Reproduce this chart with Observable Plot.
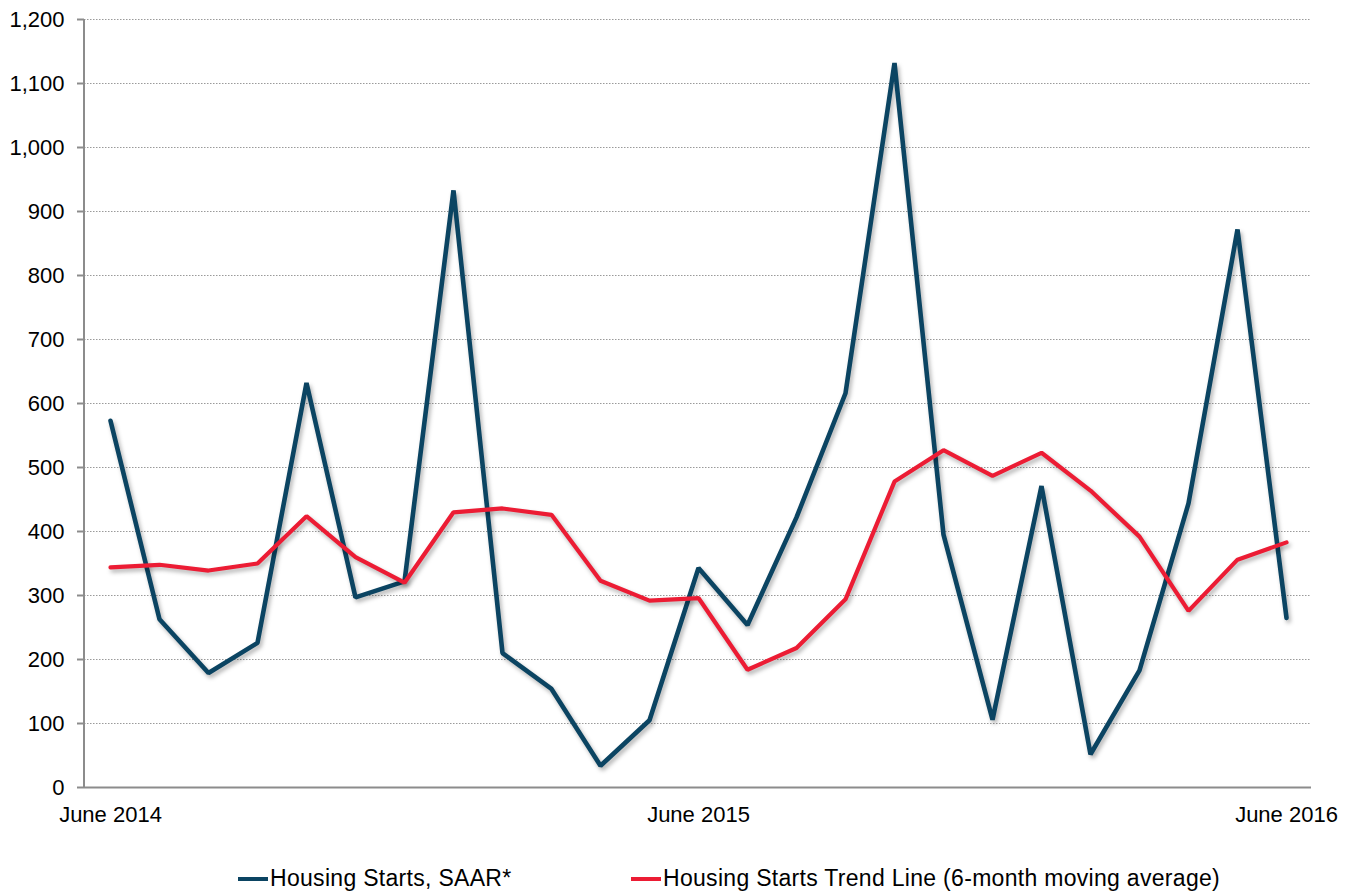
<!DOCTYPE html>
<html>
<head>
<meta charset="utf-8">
<script src="https://cdn.jsdelivr.net/npm/d3@7"></script>
<script src="https://cdn.jsdelivr.net/npm/@observablehq/plot@0.6"></script>
<style>
  html, body { margin: 0; padding: 0; background: #fff; }
  body { width: 1348px; height: 895px; position: relative; font-family: "Liberation Sans", Arial, sans-serif; }
  #chart { position: absolute; left: 0; top: 0; }
  #chart svg g[aria-label="line"] path { filter: drop-shadow(2px 3px 2px rgba(0,0,0,0.30)); }
  .legend { position: absolute; top: 865px; left: 0; width: 1348px; height: 30px; font-size: 23px; letter-spacing: 0.3px; color: #000; }
  .legend .item { position: absolute; top: 0; display: flex; align-items: center; white-space: nowrap; }
  .legend .sw { display: inline-block; width: 30px; height: 4px; margin-right: 2px; }
</style>
</head>
<body>
<div id="chart"></div>
<div class="legend" id="legend"></div>
<script>
const months = [
  "June 2014","July 2014","August 2014","September 2014","October 2014","November 2014","December 2014",
  "January 2015","February 2015","March 2015","April 2015","May 2015","June 2015",
  "July 2015","August 2015","September 2015","October 2015","November 2015","December 2015",
  "January 2016","February 2016","March 2016","April 2016","May 2016","June 2016"
];
const housingStarts = [573, 263, 179, 226, 632, 297, 322, 933, 210, 154, 34, 105, 343,
  254, 422, 616, 1132, 395, 106, 471, 52, 183, 444, 872, 265];
const trendLine = [344, 348, 339, 350, 424, 360, 320, 430, 436, 426, 323, 292, 296,
  184, 218, 294, 478, 527, 487, 523, 464, 392, 276, 356, 383];
const xTicks = ["June 2014", "June 2015", "June 2016"];
const yTicks = [0, 100, 200, 300, 400, 500, 600, 700, 800, 900, 1000, 1100, 1200];
const gridTicks = yTicks.filter(v => v > 0);
const seriesNames = ["Housing Starts, SAAR*", "Housing Starts Trend Line (6-month moving average)"];
const seriesColors = ["#0b4462", "#ec1c34"];

const starts = months.map((m, i) => ({month: m, value: housingStarts[i]}));
const trend = months.map((m, i) => ({month: m, value: trendLine[i]}));

const fmt = d3.format(",");

const chart = Plot.plot({
  width: 1348,
  height: 835,
  marginLeft: 84,
  marginRight: 37,
  marginTop: 19,
  marginBottom: 48,
  style: {fontFamily: "'Liberation Sans', Arial, sans-serif", fontSize: "22px", color: "#000", background: "#fff", overflow: "visible"},
  x: {type: "point", domain: months, padding: 0.5, label: null},
  y: {domain: [0, 1200], label: null},
  marks: [
    Plot.ruleY(gridTicks, {stroke: "#9a9a9a", strokeWidth: 1.2, strokeDasharray: "1.5,1.5"}),
    Plot.ruleY([0], {stroke: "#8c8c8c", strokeWidth: 2}),
    Plot.axisY({ticks: yTicks, tickSize: 7, tickPadding: 13, tickFormat: fmt, stroke: "#8c8c8c", strokeWidth: 2, strokeOpacity: 1, fill: "#000", fontSize: 22}),
    Plot.axisX({ticks: xTicks, tickSize: 0, tickPadding: 19, fill: "#000", fontSize: 22}),
    Plot.lineY(starts, {x: "month", y: "value", stroke: seriesColors[0], strokeWidth: 4.6, strokeLinejoin: "miter", strokeLinecap: "round"}),
    Plot.lineY(trend, {x: "month", y: "value", stroke: seriesColors[1], strokeWidth: 4.2, strokeLinejoin: "miter", strokeLinecap: "round"})
  ]
});
document.getElementById("chart").appendChild(chart);

// left vertical axis line
const svg = d3.select(chart);
svg.append("line").attr("x1", 84).attr("x2", 84).attr("y1", 19).attr("y2", 788)
  .attr("stroke", "#8c8c8c").attr("stroke-width", 2);

const legend = document.getElementById("legend");
const lefts = [238, 631];
seriesNames.forEach((name, i) => {
  const it = document.createElement("div");
  it.className = "item";
  it.style.left = lefts[i] + "px";
  const sw = document.createElement("span");
  sw.className = "sw";
  sw.style.background = seriesColors[i];
  const tx = document.createElement("span");
  tx.textContent = name;
  it.appendChild(sw); it.appendChild(tx);
  legend.appendChild(it);
});
</script>
</body>
</html>
